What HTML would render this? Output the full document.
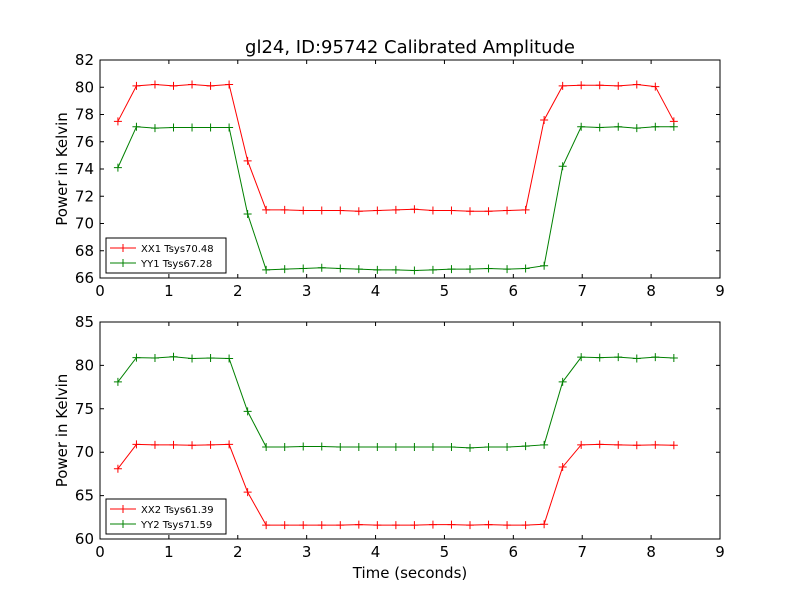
<!DOCTYPE html>
<html><head><meta charset="utf-8"><style>
body{margin:0;background:#fff;}
svg text{font-family:"DejaVu Sans","Liberation Sans",sans-serif;}
</style></head><body>
<svg id="chart" width="800" height="600" xmlns="http://www.w3.org/2000/svg">
<rect width="800" height="600" fill="#fff"/>
<text x="410" y="53" font-size="18" text-anchor="middle">gl24, ID:95742 Calibrated Amplitude</text>
<text x="410" y="578" font-size="15" text-anchor="middle">Time (seconds)</text>
<g id="p1"></g>
<g id="p2"></g>
</svg>
<script>
const times = Array.from({length:31},(_,i)=>0.26+i*0.269);
const xx1 = [77.5,80.1,80.2,80.1,80.2,80.1,80.2,74.6,71.0,71.0,70.95,70.95,70.95,70.9,70.95,71.0,71.05,70.95,70.95,70.9,70.9,70.95,71.0,77.6,80.1,80.15,80.15,80.1,80.2,80.05,77.5];
const yy1 = [74.1,77.1,77.0,77.05,77.05,77.05,77.05,70.7,66.6,66.65,66.7,66.75,66.7,66.65,66.6,66.6,66.55,66.6,66.65,66.65,66.7,66.65,66.7,66.9,74.2,77.1,77.05,77.1,77.0,77.1,77.1,74.1];
const xx2 = [68.1,70.9,70.85,70.85,70.8,70.85,70.9,65.4,61.6,61.6,61.6,61.6,61.6,61.65,61.6,61.6,61.6,61.65,61.65,61.6,61.65,61.6,61.6,61.7,68.3,70.85,70.9,70.85,70.8,70.85,70.8,68.1];
const yy2 = [78.1,80.9,80.85,81.0,80.8,80.85,80.8,74.7,70.6,70.6,70.65,70.65,70.6,70.6,70.6,70.6,70.6,70.6,70.6,70.5,70.6,70.6,70.7,70.85,78.1,80.95,80.9,80.95,80.8,80.95,80.85,77.9];
const xTicks = [0,1,2,3,4,5,6,7,8,9];
const yTicks1 = [66,68,70,72,74,76,78,80,82];
const yTicks2 = [60,65,70,75,80,85];
const legend1 = ["XX1 Tsys70.48","YY1 Tsys67.28"];
const legend2 = ["XX2 Tsys61.39","YY2 Tsys71.59"];
// x=0 at 100, x=9 at 720
const NS="http://www.w3.org/2000/svg";
function mk(tag,attrs,parent){const e=document.createElementNS(NS,tag);for(const k in attrs)e.setAttribute(k,attrs[k]);parent.appendChild(e);return e;}
function drawPanel(g,top,bot,ymin,ymax,yTicks,series,labels,ylabel){
  const L=100,R=720;
  const sx=v=>L+(v-0)/(9-0)*(R-L);
  const sy=v=>bot-(v-ymin)/(ymax-ymin)*(bot-top);
  const colors=["#ff0000","#008000"];
  series.forEach((s,si)=>{
    const pts=s.map((v,i)=>sx(times[i])+","+sy(v)).join(" ");
    const pl=mk("polyline",{points:pts,fill:"none",stroke:colors[si],"stroke-width":1},g);
    
    
    s.forEach((v,i)=>{
      const x=sx(times[i]),y=sy(v);
      const m=mk("path",{d:`M${x-4},${y}H${x+4}M${x},${y-4}V${y+4}`,stroke:colors[si],"stroke-width":1},g);
      
      
    });
  });
  const fr=mk("rect",{x:L,y:top,width:R-L,height:bot-top,fill:"none",stroke:"#000","stroke-width":1},g);
  
  
  xTicks.forEach(t=>{
    const x=sx(t);
    mk("path",{d:`M${x},${bot}v-4M${x},${top}v4`,stroke:"#000"},g);
    const tx=mk("text",{x:x,y:bot+18,"font-size":15,"text-anchor":"middle"},g);
    tx.textContent=t;
    
    
  });
  yTicks.forEach(t=>{
    const y=sy(t);
    mk("path",{d:`M${L},${y}h4M${R},${y}h-4`,stroke:"#000"},g);
    const tx=mk("text",{x:L-6,y:y+5,"font-size":15,"text-anchor":"end"},g);
    tx.textContent=t;
    
    
  });
  const yl=mk("text",{x:0,y:0,"font-size":15,"text-anchor":"middle",transform:`translate(67,${(top+bot)/2}) rotate(-90)`},g);
  yl.textContent=ylabel;
  
  
  const lg=mk("g",{},g);
  
  
  const ly=bot-40;
  mk("rect",{x:106,y:ly,width:120,height:35,fill:"#fff",stroke:"#000"},lg);
  labels.forEach((lab,i)=>{
    const yy=ly+10+i*15;
    mk("path",{d:`M110,${yy}h26M123,${yy-4}v8`,stroke:colors[i]},lg);
    const t=mk("text",{x:141,y:yy+4,"font-size":10},lg);
    t.textContent=lab;
    
    
  });
}
drawPanel(document.getElementById("p1"),60,278,66,82,yTicks1,[xx1,yy1],legend1,"Power in Kelvin");
drawPanel(document.getElementById("p2"),322,539,60,85,yTicks2,[xx2,yy2],legend2,"Power in Kelvin");
</script>
</body></html>
